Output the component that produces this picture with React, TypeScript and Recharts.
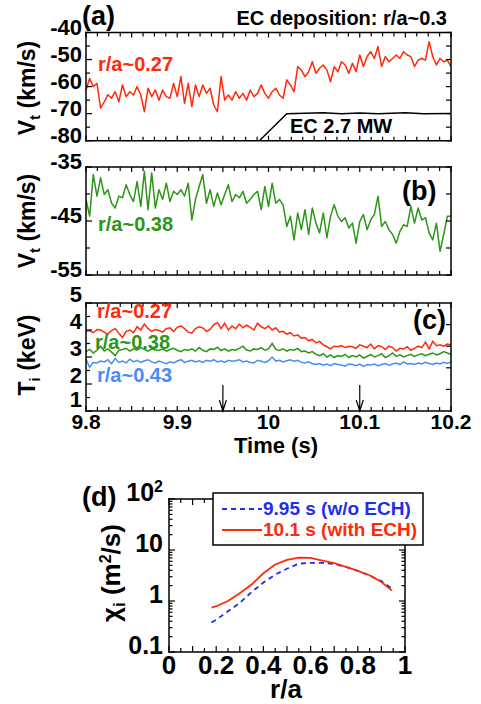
import React from 'react';
import { LineChart, Line, XAxis, YAxis, ReferenceLine, ReferenceDot } from 'recharts';

const FONT = '"Liberation Sans", Arial, Helvetica, sans-serif';
const RED = '#ff2a0a';
const GREEN = '#2b9617';
const LBLUE = '#4a8cf4';
const DBLUE = '#1e2fe8';

// ---------- time traces (panels a, b, c) ----------
const times = [
  9.800, 9.804, 9.808, 9.812, 9.816, 9.820, 9.824, 9.828, 9.832, 9.836,
  9.840, 9.844, 9.848, 9.852, 9.856, 9.860, 9.864, 9.868, 9.872, 9.876,
  9.880, 9.884, 9.888, 9.892, 9.896, 9.900, 9.904, 9.908, 9.912, 9.916,
  9.920, 9.924, 9.928, 9.932, 9.936, 9.940, 9.944, 9.948, 9.952, 9.956,
  9.960, 9.964, 9.968, 9.972, 9.976, 9.980, 9.984, 9.988, 9.992, 9.996,
  10.000, 10.004, 10.008, 10.012, 10.016, 10.020, 10.024, 10.028, 10.032, 10.036,
  10.040, 10.044, 10.048, 10.052, 10.056, 10.060, 10.064, 10.068, 10.072, 10.076,
  10.080, 10.084, 10.088, 10.092, 10.096, 10.100, 10.104, 10.108, 10.112, 10.116,
  10.120, 10.124, 10.128, 10.132, 10.136, 10.140, 10.144, 10.148, 10.152, 10.156,
  10.160, 10.164, 10.168, 10.172, 10.176, 10.180, 10.184, 10.188, 10.192, 10.196,
  10.200,
];

// (a) Vt at r/a~0.27 (km/s)
const vtCore = [
  -61.3, -57.0, -60.0, -58.8, -68.0, -65.6, -63.0, -64.3, -61.9, -65.6,
  -59.4, -63.7, -61.9, -63.1, -60.0, -63.1, -69.3, -60.6, -63.7, -61.3,
  -65.0, -61.3, -63.7, -64.3, -58.8, -63.7, -56.3, -66.2, -58.8, -67.4,
  -59.4, -63.7, -59.4, -62.5, -60.6, -66.8, -69.3, -56.3, -65.0, -63.1,
  -65.0, -61.9, -64.3, -62.5, -65.0, -61.3, -63.7, -62.5, -59.4, -62.5,
  -64.3, -61.9, -60.6, -63.1, -64.3, -57.5, -59.4, -61.9, -52.6, -53.9,
  -56.3, -54.5, -50.8, -55.1, -53.2, -52.0, -53.9, -58.2, -52.6, -54.5,
  -50.8, -52.0, -55.1, -51.4, -54.5, -48.3, -52.6, -48.9, -47.1, -49.6,
  -45.2, -52.6, -48.9, -50.8, -49.6, -48.3, -49.6, -47.1, -48.3, -48.9,
  -52.6, -50.2, -49.6, -50.2, -43.4, -48.9, -52.0, -49.6, -50.8, -50.2,
  -52.6,
];

// EC power trace drawn in panel (a) units
const ecTimes = [9.8, 9.99, 10.02, 10.06, 10.08, 10.1, 10.12, 10.15, 10.17, 10.2];
const ecLevel = [-80, -80, -70.0, -69.7, -70.0, -69.8, -70.0, -69.7, -70.0, -69.9];

// (b) Vt at r/a~0.38 (km/s)
const vtMid = [
  -41.0, -44.1, -36.4, -40.4, -37.0, -40.1, -39.2, -41.7, -42.6, -40.4,
  -40.7, -38.3, -40.1, -41.4, -37.7, -42.3, -35.8, -42.9, -36.1, -42.6,
  -39.2, -41.0, -38.0, -41.4, -39.5, -40.1, -39.2, -40.4, -38.0, -44.8,
  -41.0, -38.6, -36.4, -41.7, -39.2, -42.3, -39.8, -42.0, -40.1, -38.3,
  -41.4, -40.1, -40.7, -39.5, -41.7, -41.0, -40.1, -39.5, -42.9, -38.6,
  -42.3, -38.0, -41.7, -41.0, -42.0, -46.0, -44.1, -48.5, -43.5, -46.6,
  -42.9, -47.5, -42.6, -45.4, -47.2, -43.5, -48.1, -44.1, -42.0, -44.1,
  -45.1, -44.4, -46.3, -45.4, -49.1, -45.1, -43.8, -46.6, -44.8, -43.8,
  -40.4, -46.0, -45.1, -46.6, -47.5, -49.1, -46.9, -45.7, -46.0, -42.3,
  -45.4, -42.6, -44.8, -44.4, -47.2, -48.5, -45.4, -50.6, -47.5, -44.1,
  -44.1,
];

// (c) Ti (keV)
const tiCore = [
  3.95, 3.98, 3.90, 4.02, 4.00, 3.92, 3.85, 3.98, 4.05, 3.88,
  3.72, 3.95, 4.00, 3.90, 4.12, 4.00, 4.22, 4.05, 3.95, 4.02,
  3.98, 3.92, 4.05, 4.08, 3.95, 4.10, 4.15, 4.05, 3.92, 3.88,
  4.05, 4.12, 4.08, 3.95, 4.02, 4.20, 4.28, 4.05, 4.25, 4.00,
  4.15, 4.05, 4.22, 4.08, 4.18, 4.10, 4.00, 4.25, 4.12, 4.05,
  4.15, 4.00, 4.08, 3.92, 3.95, 3.85, 3.90, 3.78, 3.82, 3.70,
  3.72, 3.60, 3.65, 3.52, 3.58, 3.45, 3.38, 3.30, 3.40, 3.38,
  3.42, 3.35, 3.40, 3.38, 3.32, 3.45, 3.40, 3.35, 3.48, 3.30,
  3.42, 3.38, 3.28, 3.40, 3.35, 3.22, 3.32, 3.30, 3.38, 3.25,
  3.32, 3.40, 3.35, 3.55, 3.30, 3.58, 3.42, 3.45, 3.40, 3.48,
  3.45,
];
const tiMid = [
  3.20, 3.28, 3.15, 3.25, 3.40, 3.22, 3.30, 3.18, 3.05, 3.25,
  3.28, 3.32, 3.22, 3.30, 3.25, 3.35, 3.28, 3.22, 3.30, 3.26,
  3.24, 3.30, 3.22, 3.28, 3.32, 3.25, 3.20, 3.28, 3.24, 3.30,
  3.22, 3.35, 3.25, 3.20, 3.30, 3.28, 3.36, 3.24, 3.30, 3.22,
  3.28, 3.25, 3.32, 3.40, 3.26, 3.22, 3.30, 3.28, 3.35, 3.25,
  3.30, 3.50, 3.28, 3.24, 3.30, 3.22, 3.28, 3.25, 3.32, 3.20,
  3.22, 3.15, 3.20, 3.10, 3.05, 3.12, 3.00, 3.08, 2.98, 3.05,
  3.02, 3.10, 2.98, 3.05, 3.00, 3.08, 2.96, 3.02, 3.10, 3.00,
  3.05, 3.12, 2.98, 3.04, 3.15, 3.02, 3.08, 3.00, 3.05, 3.10,
  3.02, 3.08, 3.12, 3.05, 3.10, 3.15, 3.08, 3.12, 3.20, 3.15,
  3.10,
];
const tiEdge = [
  2.92, 2.62, 2.80, 2.78, 2.85, 2.82, 2.90, 2.75, 2.95, 2.80,
  2.85, 2.78, 2.92, 2.82, 2.88, 2.80, 2.86, 2.90, 2.82, 2.78,
  2.85, 2.80, 2.75, 2.82, 2.78, 2.85, 2.90, 2.80, 2.84, 2.88,
  2.82, 2.86, 2.80, 2.88, 2.84, 2.90, 2.82, 2.86, 2.80, 2.88,
  2.84, 2.86, 2.90, 2.82, 2.85, 2.80, 2.78, 2.88, 2.84, 2.80,
  2.86, 3.00, 2.85, 2.88, 2.82, 2.86, 2.90, 2.84, 2.88, 2.80,
  2.78, 2.82, 2.75, 2.72, 2.76, 2.70, 2.74, 2.68, 2.76, 2.72,
  2.70, 2.66, 2.74, 2.72, 2.68, 2.74, 2.65, 2.72, 2.70, 2.74,
  2.68, 2.72, 2.76, 2.70, 2.74, 2.78, 2.72, 2.82, 2.74, 2.76,
  2.72, 2.78, 2.74, 2.80, 2.76, 2.72, 2.78, 2.74, 2.80, 2.76,
  2.82,
];

const arrowTimes = [9.95, 10.1];

// ---------- (d) chi_i profiles ----------
const rho = [0.18, 0.2, 0.25, 0.3, 0.35, 0.4, 0.45, 0.5, 0.55, 0.6, 0.65, 0.7, 0.75, 0.8, 0.85, 0.9, 0.945];
const chiNoECH = [0.38, 0.43, 0.63, 0.92, 1.5, 2.3, 3.3, 4.3, 5.4, 5.6, 5.6, 5.3, 4.65, 3.9, 3.15, 2.45, 1.75];
const chiECH = [0.74, 0.79, 1.0, 1.42, 2.1, 3.5, 5.2, 6.4, 7.1, 7.0, 6.2, 5.5, 4.65, 3.9, 3.2, 2.35, 1.6];

// ---------- ticks ----------
const timeTicks = Array.from({ length: 33 }, (_, i) => +(9.8 + i * 0.0125).toFixed(4));
const timeLabelValues = [9.8, 9.9, 10, 10.1, 10.2];
const timeLabels = ['9.8', '9.9', '10', '10.1', '10.2'];
const vtATicks = [-80, -75, -70, -65, -60, -55, -50, -45, -40];
const vtALabels = [-80, -70, -60, -50, -40];
const vtBTicks = [-55, -50, -45, -40, -35];
const vtBLabels = [-55, -45, -35];
const tiTicks = [1, 1.5, 2, 2.5, 3, 3.5, 4, 4.5, 5];
const tiLabels = [1, 2, 3, 4, 5];
const tiRightTicks = [1.8, 2.6, 3.4, 4.2];
const rhoTicks = [0, 0.05, 0.1, 0.15, 0.2, 0.25, 0.3, 0.35, 0.4, 0.45, 0.5, 0.55, 0.6, 0.65, 0.7, 0.75, 0.8, 0.85, 0.9, 0.95, 1];
const rhoLabelValues = [0, 0.2, 0.4, 0.6, 0.8, 1];
const rhoLabels = ['0', '0.2', '0.4', '0.6', '0.8', '1'];
const chiTicks = [0.1, 0.2, 0.3, 0.4, 0.5, 0.6, 0.7, 0.8, 0.9, 1, 2, 3, 4, 5, 6, 7, 8, 9, 10, 20, 30, 40, 50, 60, 70, 80, 90, 100];
const chiDecades = [0.1, 1, 10, 100];

const timeData = times.map((t, i) => ({
  t,
  vtCore: vtCore[i],
  vtMid: vtMid[i],
  tiCore: tiCore[i],
  tiMid: tiMid[i],
  tiEdge: tiEdge[i],
}));
const ecData = ecTimes.map((t, i) => ({ t, ec: ecLevel[i] }));
const chiData = rho.map((r, i) => ({ r, noEch: chiNoECH[i], ech: chiECH[i] }));

const near = (a: number, b: number) => Math.abs(a - b) < 1e-6;
const inList = (v: number, list: number[]) => list.some((u) => near(u, v));

type Side = 'left' | 'right' | 'top' | 'bottom';
type TickSpec = {
  side: Side;
  values: number[];
  at: number;
  len: (v: number) => number;
  label?: (v: number) => React.ReactNode | null;
  fontSize?: number;
  gap?: number;
  dy?: number | ((v: number) => number);
};

function tickShape(s: TickSpec, v: number) {
  return (p: any) => {
    const x = Number(p.cx);
    const y = Number(p.cy);
    const len = s.len(v);
    let x2 = x;
    let y2 = y;
    if (s.side === 'left') x2 = x + len;
    else if (s.side === 'right') x2 = x - len;
    else if (s.side === 'top') y2 = y + len;
    else y2 = y - len;
    const lab = s.label ? s.label(v) : null;
    const dy = typeof s.dy === 'function' ? s.dy(v) : s.dy;
    let text: React.ReactNode = null;
    if (lab !== null && lab !== undefined) {
      if (s.side === 'left') {
        text = (
          <text x={x - (s.gap ?? 4)} y={y + (dy ?? 2)} textAnchor="end" fontSize={s.fontSize ?? 22}
            fontWeight="bold" fontFamily={FONT} fill="#000">{lab}</text>
        );
      } else if (s.side === 'bottom') {
        text = (
          <text x={x} y={y + (dy ?? 17)} textAnchor="middle" fontSize={s.fontSize ?? 22}
            fontWeight="bold" fontFamily={FONT} fill="#000">{lab}</text>
        );
      }
    }
    return (
      <g>
        <line x1={x} y1={y} x2={x2} y2={y2} stroke="#000" strokeWidth={1.2} />
        {text}
      </g>
    );
  };
}

function tickDots(s: TickSpec, key: string) {
  return s.values.map((v) => {
    const horiz = s.side === 'top' || s.side === 'bottom';
    return (
      <ReferenceDot key={`${key}${v}`} xAxisId="X" yAxisId="Y" x={horiz ? v : s.at} y={horiz ? s.at : v} r={0}
        ifOverflow="visible" shape={tickShape(s, v)} />
    );
  });
}

function frame(x0: number, x1: number, y0: number, y1: number) {
  const segs: [number, number, number, number][] = [
    [x0, y0, x1, y0],
    [x0, y1, x1, y1],
    [x0, y0, x0, y1],
    [x1, y0, x1, y1],
  ];
  return segs.map((s, i) => (
    <ReferenceLine key={`f${i}`} xAxisId="X" yAxisId="Y" ifOverflow="visible"
      segment={[{ x: s[0], y: s[1] }, { x: s[2], y: s[3] }]} stroke="#000" strokeWidth={1.5} strokeLinecap="square" />
  ));
}

const timeMajor = (v: number) => inList(v, [9.8, 9.85, 9.9, 9.95, 10, 10.05, 10.1, 10.15, 10.2]);
const timeLabelFn = (v: number) => {
  const idx = timeLabelValues.findIndex((u) => near(u, v));
  return idx >= 0 ? timeLabels[idx] : null;
};

function timePanelDecor(yMin: number, yMax: number, yTicks: number[], yLabels: number[], rightTicks: number[],
  xLabels: boolean, labelDy: number | ((v: number) => number)) {
  return [
    ...tickDots({ side: 'bottom', values: timeTicks, at: yMin, len: (v) => (timeMajor(v) ? 5 : 4),
      label: xLabels ? timeLabelFn : undefined, dy: 18, fontSize: 21 }, 'b'),
    ...tickDots({ side: 'top', values: timeTicks, at: yMax, len: (v) => (timeMajor(v) ? 5 : 4) }, 't'),
    ...tickDots({ side: 'left', values: yTicks, at: 9.8, len: (v) => (inList(v, yLabels) ? 6 : 4),
      label: (v) => (inList(v, yLabels) ? String(v) : null), dy: labelDy }, 'l'),
    ...tickDots({ side: 'right', values: rightTicks, at: 10.2, len: () => 5 }, 'r'),
    ...frame(9.8, 10.2, yMin, yMax),
  ];
}

const chiLabel = (v: number) => {
  if (near(v, 100)) return (<>10<tspan dy={-9} fontSize={16}>2</tspan></>);
  if (near(v, 10)) return '10';
  if (near(v, 1)) return '1';
  if (near(v, 0.1)) return '0.1';
  return null;
};
const rhoLabelFn = (v: number) => {
  const idx = rhoLabelValues.findIndex((u) => near(u, v));
  return idx >= 0 ? rhoLabels[idx] : null;
};
const rhoMajor = (v: number) => Math.abs(v * 10 - Math.round(v * 10)) < 1e-6;

function ArrowHead(props: any) {
  const { cx, cy } = props;
  return (
    <path d={`M${cx - 3.5},${cy - 11} L${cx},${cy} L${cx + 3.5},${cy - 11}`} fill="none" stroke="#000" strokeWidth={1.2} />
  );
}

function timeAxes(domain: [number, number]) {
  return [
    <XAxis key="x" xAxisId="X" dataKey="t" type="number" domain={[9.8, 10.2]} allowDataOverflow hide />,
    <YAxis key="y" yAxisId="Y" type="number" domain={domain} allowDataOverflow hide />,
  ];
}

export default function App() {
  const txt = { fontFamily: FONT, fontWeight: 'bold' as const };
  return (
    <div style={{ position: 'absolute', left: 0, top: 0, width: 481, height: 704, background: '#fff', fontFamily: FONT }}>
      {/* Panel (a) */}
      <div style={{ position: 'absolute', left: 0, top: 0 }}>
        <LineChart width={481} height={150} data={timeData} margin={{ top: 32.5, right: 30, bottom: 9.3, left: 86 }}>
          {timeAxes([-80, -40])}
          <Line xAxisId="X" yAxisId="Y" data={ecData} dataKey="ec" stroke="#000" strokeWidth={1.5} dot={false}
            isAnimationActive={false} />
          <Line xAxisId="X" yAxisId="Y" dataKey="vtCore" stroke={RED} strokeWidth={1.5} dot={false}
            isAnimationActive={false} strokeLinejoin="round" />
          {timePanelDecor(-80, -40, vtATicks, vtALabels, vtATicks, false, 2)}
        </LineChart>
      </div>
      {/* Panel (b) */}
      <div style={{ position: 'absolute', left: 0, top: 150 }}>
        <LineChart width={481} height={140} data={timeData} margin={{ top: 17, right: 30, bottom: 15, left: 86 }}>
          {timeAxes([-55, -35])}
          <Line xAxisId="X" yAxisId="Y" dataKey="vtMid" stroke={GREEN} strokeWidth={1.5} dot={false}
            isAnimationActive={false} strokeLinejoin="round" />
          {timePanelDecor(-55, -35, vtBTicks, vtBLabels, vtBTicks, false, 2)}
        </LineChart>
      </div>
      {/* Panel (c) */}
      <div style={{ position: 'absolute', left: 0, top: 275 }}>
        <LineChart width={481} height={185} data={timeData} margin={{ top: 28, right: 30, bottom: 49, left: 86 }}>
          {timeAxes([1, 5])}
          <Line xAxisId="X" yAxisId="Y" dataKey="tiEdge" stroke={LBLUE} strokeWidth={1.5} dot={false}
            isAnimationActive={false} />
          <Line xAxisId="X" yAxisId="Y" dataKey="tiMid" stroke={GREEN} strokeWidth={1.5} dot={false}
            isAnimationActive={false} />
          <Line xAxisId="X" yAxisId="Y" dataKey="tiCore" stroke={RED} strokeWidth={1.5} dot={false}
            isAnimationActive={false} />
          {arrowTimes.map((t) => (
            <ReferenceLine key={`al${t}`} xAxisId="X" yAxisId="Y" segment={[{ x: t, y: 1 }, { x: t, y: 1.96 }]}
              stroke="#000" strokeWidth={1.2} />
          ))}
          {arrowTimes.map((t) => (
            <ReferenceDot key={`ad${t}`} xAxisId="X" yAxisId="Y" x={t} y={1} r={0} shape={ArrowHead} />
          ))}
          {timePanelDecor(1, 5, tiTicks, tiLabels, tiRightTicks, true, (v) => (near(v, 1) ? -4 : -1))}
        </LineChart>
      </div>
      {/* Panel (d) */}
      <div style={{ position: 'absolute', left: 0, top: 470 }}>
        <LineChart width={481} height={234} data={chiData} margin={{ top: 29, right: 76, bottom: 52, left: 169 }}>
          <XAxis xAxisId="X" dataKey="r" type="number" domain={[0, 1]} allowDataOverflow hide />
          <YAxis yAxisId="Y" type="number" scale="log" domain={[0.1, 100]} allowDataOverflow hide />
          <Line xAxisId="X" yAxisId="Y" dataKey="noEch" stroke={DBLUE} strokeWidth={1.8} strokeDasharray="5 4"
            dot={false} isAnimationActive={false} />
          <Line xAxisId="X" yAxisId="Y" dataKey="ech" stroke={RED} strokeWidth={1.8} dot={false}
            isAnimationActive={false} />
          {tickDots({ side: 'bottom', values: rhoTicks, at: 0.1, len: (v) => (rhoMajor(v) ? 6 : 4), label: rhoLabelFn,
            fontSize: 26, dy: 22 }, 'b')}
          {tickDots({ side: 'top', values: rhoTicks, at: 100, len: (v) => (rhoMajor(v) ? 6 : 4) }, 't')}
          {tickDots({ side: 'left', values: chiTicks, at: 0, len: (v) => (inList(v, chiDecades) ? 6 : 3.5),
            label: chiLabel, fontSize: 25, gap: 6, dy: 2 }, 'l')}
          {tickDots({ side: 'right', values: chiTicks, at: 1, len: (v) => (inList(v, chiDecades) ? 6 : 3.5) }, 'r')}
          {frame(0, 1, 0.1, 100)}
        </LineChart>
      </div>

      {/* Text overlay */}
      <svg width={481} height={704} style={{ position: 'absolute', left: 0, top: 0, pointerEvents: 'none' }}>
        <g {...txt}>
          <text x={82} y={25} fontSize={27} fill="#000">(a)</text>
          <text x={447} y={25} fontSize={20} textAnchor="end" fill="#000">EC deposition: r/a~0.3</text>
          <text x={98} y={71} fontSize={20} fill={RED}>r/a~0.27</text>
          <text x={290} y={133} fontSize={20} fill="#000">EC 2.7 MW</text>

          <text x={402} y={200} fontSize={27} fill="#000">(b)</text>
          <text x={98} y={231} fontSize={20} fill={GREEN}>r/a~0.38</text>

          <text x={413} y={329} fontSize={27} fill="#000">(c)</text>
          <text x={97} y={318} fontSize={20} fill={RED}>r/a~0.27</text>
          <text x={95} y={349} fontSize={20} fill={GREEN}>r/a~0.38</text>
          <text x={97} y={382} fontSize={20} fill={LBLUE}>r/a~0.43</text>
          <text x={276} y={453} fontSize={22} textAnchor="middle" fill="#000">Time (s)</text>

          <text x={82} y={506} fontSize={27} fill="#000">(d)</text>
          <text x={286} y={698} fontSize={26} textAnchor="middle" fill="#000">r/a</text>

          <text x={35} y={88} fontSize={23} textAnchor="middle" fill="#000" transform="rotate(-90 35 88)">
            V<tspan dy={5} fontSize={15}>t</tspan><tspan dy={-5}> (km/s)</tspan>
          </text>
          <text x={35} y={221} fontSize={23} textAnchor="middle" fill="#000" transform="rotate(-90 35 221)">
            V<tspan dy={5} fontSize={15}>t</tspan><tspan dy={-5}> (km/s)</tspan>
          </text>
          <text x={35} y={355} fontSize={23} textAnchor="middle" fill="#000" transform="rotate(-90 35 355)">
            T<tspan dy={5} fontSize={15}>i</tspan><tspan dy={-5}> (keV)</tspan>
          </text>
          <text x={120} y={573} fontSize={26} textAnchor="middle" fill="#000" transform="rotate(-90 120 573)">
            χ<tspan dy={5} fontSize={17}>i</tspan><tspan dy={-5}> (m</tspan><tspan dy={-9} fontSize={16}>2</tspan>
            <tspan dy={9}>/s)</tspan>
          </text>

          {/* legend */}
          <rect x={213} y={493} width={210} height={52} fill="#fff" stroke="#000" strokeWidth={1.5} />
          <line x1={222} y1={509} x2={262} y2={509} stroke={DBLUE} strokeWidth={1.8} strokeDasharray="5 4" />
          <text x={263} y={515} fontSize={19} fill={DBLUE}>9.95 s (w/o ECH)</text>
          <line x1={222} y1={530} x2={262} y2={530} stroke={RED} strokeWidth={1.8} />
          <text x={263} y={536} fontSize={19} fill={RED}>10.1 s (with ECH)</text>
        </g>
      </svg>
    </div>
  );
}
